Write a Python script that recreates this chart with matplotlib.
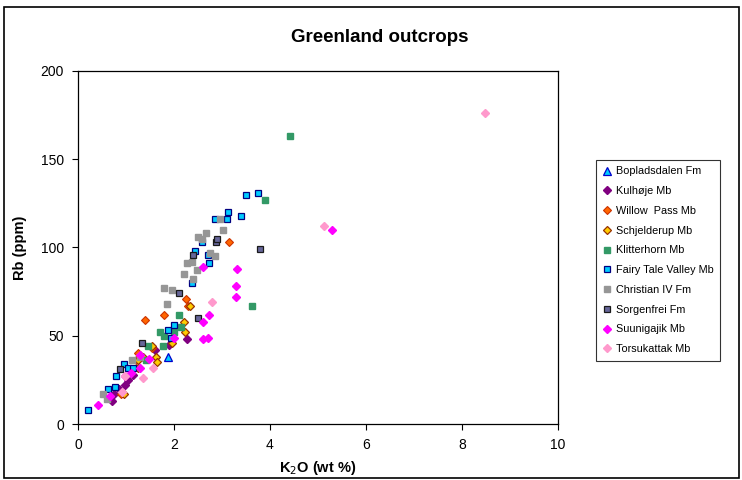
import matplotlib.pyplot as plt
from matplotlib.patches import Rectangle

plt.rcParams["font.family"] = ["Liberation Sans", "DejaVu Sans"]

# K2O (wt %) / Rb (ppm) per unit
boplads_x = [1.88]
boplads_y = [38]

kulhoje_x = [0.7, 0.75, 0.85, 0.98, 1.05, 1.15, 1.6, 1.9, 2.28]
kulhoje_y = [13, 17, 20, 22, 25, 28, 42, 45, 48]

willow_x = [0.9, 1.2, 1.25, 1.4, 1.55, 1.8, 2.25, 2.3, 3.15]
willow_y = [17, 36, 40, 59, 43, 62, 71, 67, 103]

schjel_x = [0.95, 1.25, 1.25, 1.35, 1.55, 1.63, 1.65, 1.95, 2.2, 2.23, 2.33]
schjel_y = [17, 32, 36, 38, 44, 38, 35, 46, 58, 52, 67]

klitter_x = [1.42, 1.45, 1.7, 1.77, 1.8, 2.0, 2.1, 2.15, 3.62, 3.9, 4.42]
klitter_y = [36, 44, 52, 44, 50, 52, 62, 55, 67, 127, 163]

fairy_x = [0.21, 0.63, 0.77, 0.8, 0.95, 1.05, 1.15, 1.88, 1.94, 2.0, 2.37,
           2.44, 2.58, 2.7, 2.72, 2.85, 3.1, 3.13, 3.4, 3.5, 3.75]
fairy_y = [8, 20, 21, 27, 34, 32, 32, 53, 49, 56, 80,
           98, 103, 96, 91, 116, 116, 120, 118, 130, 131]

christ_x = [0.52, 0.6, 1.12, 1.3, 1.86, 1.8, 1.96, 2.2, 2.27, 2.38, 2.4,
            2.47, 2.5, 2.58, 2.67, 2.75, 2.85, 2.95, 3.02]
christ_y = [17, 14, 36, 38, 68, 77, 76, 85, 91, 92, 82,
            87, 106, 105, 108, 97, 95, 116, 110]

sorgen_x = [0.88, 1.33, 2.1, 2.4, 2.5, 2.87, 2.9, 3.8]
sorgen_y = [31, 46, 74, 96, 60, 103, 105, 99]

suuni_x = [0.42, 0.67, 0.98, 1.1, 1.3, 1.3, 1.48, 2.0, 2.6, 2.7, 2.6,
           2.72, 2.6, 3.3, 3.3, 3.31, 5.3]
suuni_y = [11, 16, 27, 29, 32, 39, 37, 49, 48, 49, 58,
           62, 89, 72, 78, 88, 110]

torsu_x = [0.92, 0.98, 1.35, 1.56, 2.8, 5.12, 8.48]
torsu_y = [18, 27, 26, 32, 69, 112, 176]

fig = plt.figure(figsize=(7.42, 4.8), dpi=100)
ax = fig.add_axes([78 / 742, 56 / 480, 480 / 742, 353 / 480])

sq = 5
dm = 4.5
ax.plot(boplads_x, boplads_y, "^", ms=5.5, mfc="#00CCFF", mec="#0000CC", mew=0.9,
        ls="None", label="Bopladsdalen Fm")
ax.plot(kulhoje_x, kulhoje_y, "D", ms=dm, mfc="#800080", mec="#800080",
        ls="None", label="Kulhøje Mb")
ax.plot(willow_x, willow_y, "D", ms=dm, mfc="#FF6600", mec="#CC3300", mew=0.8,
        ls="None", label="Willow  Pass Mb")
ax.plot(schjel_x, schjel_y, "D", ms=dm, mfc="#FFCC00", mec="#993300", mew=0.9,
        ls="None", label="Schjelderup Mb")
ax.plot(klitter_x, klitter_y, "s", ms=sq, mfc="#339966", mec="#339966",
        ls="None", label="Klitterhorn Mb")
ax.plot(fairy_x, fairy_y, "s", ms=sq, mfc="#00CCFF", mec="#000080", mew=0.9,
        ls="None", label="Fairy Tale Valley Mb")
ax.plot(christ_x, christ_y, "s", ms=sq, mfc="#969696", mec="#969696",
        ls="None", label="Christian IV Fm")
ax.plot(sorgen_x, sorgen_y, "s", ms=sq, mfc="#666699", mec="#1a1a1a", mew=0.9,
        ls="None", label="Sorgenfrei Fm")
ax.plot(suuni_x, suuni_y, "D", ms=dm, mfc="#FF00FF", mec="#FF00FF",
        ls="None", label="Suunigajik Mb")
ax.plot(torsu_x, torsu_y, "D", ms=dm, mfc="#FF99CC", mec="#FF99CC",
        ls="None", label="Torsukattak Mb")

ax.set_xlim(0, 10)
ax.set_ylim(0, 200)
ax.set_xticks(range(0, 11, 2))
ax.set_yticks(range(0, 201, 50))
ax.tick_params(direction="out", length=4, width=0.8, labelsize=10, pad=6)
for s in ax.spines.values():
    s.set_linewidth(0.9)

ax.set_xlabel("K$_2$O (wt %)", fontsize=10.5, fontweight="bold", labelpad=5)
ax.set_ylabel("Rb (ppm)", fontsize=10.5, fontweight="bold", labelpad=10)
fig.text(380 / 742, 1 - 37 / 480, "Greenland outcrops", ha="center", va="center",
         fontsize=13.5, fontweight="bold")

leg = fig.legend(loc="upper left", bbox_to_anchor=(596 / 742, 1 - 160 / 480),
                 fontsize=7.8, frameon=True, fancybox=False, edgecolor="black",
                 handlelength=0.8, handletextpad=0.4, labelspacing=0.9,
                 borderpad=0.6, borderaxespad=0)
leg.get_frame().set_linewidth(0.8)

fig.patches.append(Rectangle((4 / 742, 2 / 480), 735 / 742, 471 / 480,
                             transform=fig.transFigure, fill=False,
                             edgecolor="black", linewidth=1.2))

fig.savefig("out.png", dpi=100)
